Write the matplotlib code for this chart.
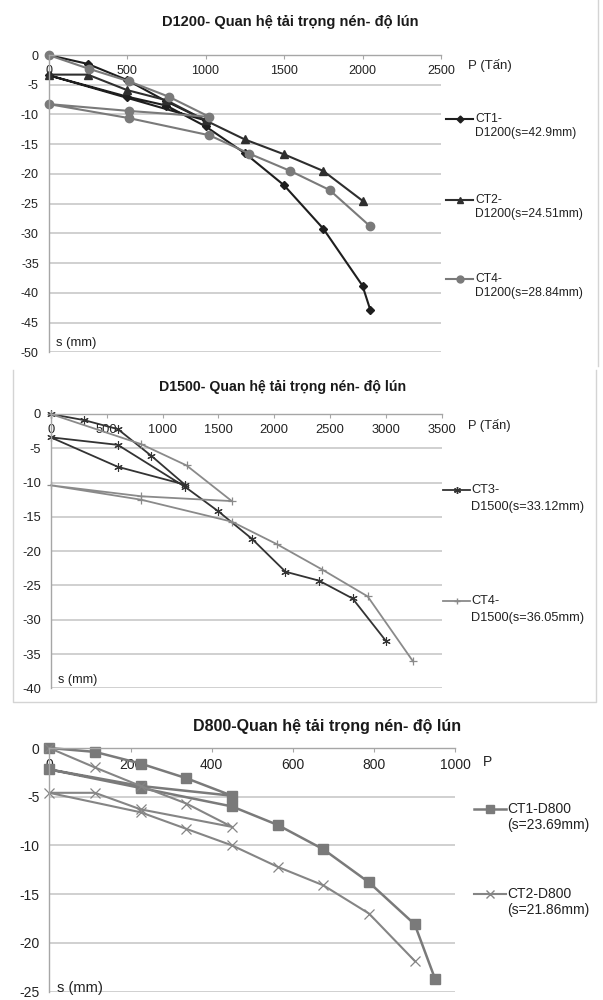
import matplotlib
matplotlib.use("Agg")
import matplotlib.pyplot as plt
from matplotlib.lines import Line2D

plt.rcParams['font.family'] = ['Liberation Sans', 'DejaVu Sans']
plt.rcParams['axes.unicode_minus'] = False

# ---------------- D1200 data ----------------
d1200_ct1_p = [0, 250, 500, 750, 1000, 0, 500, 750, 1000, 1250, 1500, 1750, 2000, 2050]
d1200_ct1_s = [0, -1.5, -4.2, -7.8, -11.0, -3.4, -7.0, -8.5, -12.0, -16.5, -21.9, -29.2, -38.8, -42.9]
d1200_ct2_p = [0, 250, 500, 750, 1000, 1250, 1500, 1750, 2000]
d1200_ct2_s = [-3.3, -3.3, -5.9, -7.6, -11.0, -14.2, -16.7, -19.5, -24.51]
d1200_ct4_p = [0, 255, 510, 765, 1025, 510, 0, 510, 1025, 1280, 1540, 1790, 2050]
d1200_ct4_s = [0, -2.3, -4.4, -7.0, -10.4, -9.4, -8.25, -10.6, -13.5, -16.6, -19.5, -22.7, -28.84]

# ---------------- D1500 data ----------------
d1500_ct3_p = [0, 300, 600, 900, 1200, 600, 0, 600, 1200, 1500, 1800, 2100, 2400, 2700, 3000]
d1500_ct3_s = [0, -0.9, -2.2, -6.1, -10.3, -7.7, -3.4, -4.5, -10.6, -14.2, -18.2, -23.0, -24.3, -26.9, -33.12]
d1500_ct4_p = [0, 810, 1215, 1620, 810, 0, 810, 1620, 2025, 2430, 2835, 3240]
d1500_ct4_s = [0, -4.4, -7.5, -12.7, -12.0, -10.4, -12.5, -15.7, -19.0, -22.7, -26.6, -36.05]

# ---------------- D800 data ----------------
d800_ct1_p = [0, 112.5, 225, 337.5, 450, 225, 0, 225, 450, 562.5, 675, 787.5, 900, 950]
d800_ct1_s = [0, -0.4, -1.6, -3.1, -4.9, -3.9, -2.2, -4.1, -6.0, -7.9, -10.4, -13.8, -18.1, -23.69]
d800_ct2_p = [0, 112.5, 225, 337.5, 450, 225, 112.5, 0, 225, 337.5, 450, 562.5, 675, 787.5, 900]
d800_ct2_s = [0, -2.0, -3.9, -5.7, -8.1, -6.3, -4.6, -4.6, -6.6, -8.3, -10.0, -12.2, -14.1, -17.0, -21.86]

titles = ["D1200- Quan hệ tải trọng nén- độ lún",
          "D1500- Quan hệ tải trọng nén- độ lún",
          "D800-Quan hệ tải trọng nén- độ lún"]

W, H = 603, 1000
fig = plt.figure(figsize=(W / 100, H / 100), dpi=100)

def fx(px):
    return px / W

def fy(py):
    return 1 - py / H

def make_axes(left, right, top, bottom, xmax, xstep, ymin, ystep, tick_fs, pad):
    ax = fig.add_axes([fx(left), fy(bottom), fx(right - left), (bottom - top) / H])
    ax.set_xlim(0, xmax)
    ax.set_ylim(ymin, 0)
    xt = list(range(0, int(xmax) + 1, xstep))
    yt = list(range(int(ymin), 1, ystep))
    ax.set_xticks(xt)
    ax.set_yticks(yt)
    ax.xaxis.set_ticks_position('top')
    ax.tick_params(axis='x', direction='in', length=3, width=0.8, color='#a6a6a6',
                   pad=pad, labelsize=tick_fs, labelcolor='#222222')
    ax.tick_params(axis='y', length=0, pad=7, labelsize=tick_fs, labelcolor='#222222')
    for sp in ['right', 'bottom']:
        ax.spines[sp].set_visible(False)
    for sp in ['top', 'left']:
        ax.spines[sp].set_color('#a6a6a6')
        ax.spines[sp].set_linewidth(1.0)
    ax.yaxis.grid(True, color='#c8c8c8', linewidth=1.2)
    ax.set_axisbelow(True)
    ax.patch.set_alpha(0)
    for sp in ax.spines.values():
        sp.set_clip_on(False)
    return ax

def legend_entry(x0, x1, y, color, marker, ms, lw, lines, fs, tx, dy):
    fig.add_artist(Line2D([fx(x0), fx(x1)], [fy(y), fy(y)], color=color, lw=lw,
                          transform=fig.transFigure))
    fig.add_artist(Line2D([fx((x0 + x1) / 2)], [fy(y)], color=color, marker=marker,
                          ms=ms, mec=color, mfc=color, lw=0, transform=fig.transFigure))
    for i, t in enumerate(lines):
        fig.text(fx(tx), fy(y + i * dy), t, fontsize=fs, va='center', ha='left',
                 color='#222222')

# ---------------- Panel 1: D1200 ----------------
ax1 = make_axes(48.5, 441, 55, 352.3, 2500, 500, -50, 5, 9, -16)
c_ct1, c_ct2, c_ct4 = '#1e1e1e', '#2e2e2e', '#7a7a7a'
ax1.plot(d1200_ct1_p, d1200_ct1_s, color=c_ct1, lw=1.5, marker='D', ms=4, clip_on=False)
ax1.plot(d1200_ct2_p, d1200_ct2_s, color=c_ct2, lw=1.5, marker='^', ms=5.5, clip_on=False)
ax1.plot(d1200_ct4_p, d1200_ct4_s, color=c_ct4, lw=1.5, marker='o', ms=6, clip_on=False)
fig.text(fx(290), fy(22), titles[0], fontsize=10.5, fontweight='bold', ha='center',
         va='center', color='#1a1a1a')
fig.text(fx(467.5), fy(65), "P (Tấn)", fontsize=9.5, ha='left', va='center', color='#222222')
fig.text(fx(56), fy(343), "s (mm)", fontsize=9.4, ha='left', va='center', color='#222222')
legend_entry(446, 473, 119, c_ct1, 'D', 3.5, 1.5, ["CT1-", "D1200(s=42.9mm)"], 8.7, 475, 14)
legend_entry(446, 473, 200, c_ct2, '^', 5, 1.5, ["CT2-", "D1200(s=24.51mm)"], 8.7, 475, 14)
legend_entry(446, 473, 279, c_ct4, 'o', 5, 1.5, ["CT4-", "D1200(s=28.84mm)"], 8.7, 475, 14)

# ---------------- Panel 2: D1500 ----------------
ax2 = make_axes(50.7, 442, 414, 688.3, 3500, 500, -40, 5, 9.3, -16)
c_ct3b, c_ct4b = '#333333', '#8a8a8a'
ax2.plot(d1500_ct3_p, d1500_ct3_s, color=c_ct3b, lw=1.3, marker=(6, 2, 0), ms=6,
         mew=0.8, clip_on=False)
ax2.plot(d1500_ct4_p, d1500_ct4_s, color=c_ct4b, lw=1.3, marker='+', ms=6, mew=0.9,
         clip_on=False)
fig.text(fx(283), fy(387), titles[1], fontsize=10.2, fontweight='bold', ha='center',
         va='center', color='#1a1a1a')
fig.text(fx(467.5), fy(425.5), "P (Tấn)", fontsize=9.3, ha='left', va='center', color='#222222')
fig.text(fx(58), fy(680.5), "s (mm)", fontsize=9.1, ha='left', va='center', color='#222222')
legend_entry(443, 470, 490.5, c_ct3b, (6, 2, 0), 5, 1.3, ["CT3-", "D1500(s=33.12mm)"], 9.2, 471, 16.5)
legend_entry(443, 470, 601, c_ct4b, '+', 5, 1.3, ["CT4-", "D1500(s=36.05mm)"], 9.2, 471, 16.5)

# ---------------- Panel 3: D800 ----------------
ax3 = make_axes(49.3, 455.3, 748, 991.5, 1000, 200, -25, 5, 10, -17)
c_d8a, c_d8b = '#7a7a7a', '#858585'
ax3.plot(d800_ct1_p, d800_ct1_s, color=c_d8a, lw=1.8, marker='s', ms=6.5, clip_on=False)
ax3.plot(d800_ct2_p, d800_ct2_s, color=c_d8b, lw=1.5, marker='x', ms=6.5, mew=0.9,
         clip_on=False)
fig.text(fx(327), fy(726), titles[2], fontsize=11.5, fontweight='bold', ha='center',
         va='center', color='#1a1a1a')
fig.text(fx(483), fy(761.5), "P", fontsize=10, ha='left', va='center', color='#222222')
fig.text(fx(57), fy(988), "s (mm)", fontsize=10.6, ha='left', va='center', color='#222222')
legend_entry(474, 506, 809, c_d8a, 's', 5.5, 1.8, ["CT1-D800", "(s=23.69mm)"], 10, 507, 16)
legend_entry(474, 506, 894, c_d8b, 'x', 5.5, 1.5, ["CT2-D800", "(s=21.86mm)"], 10, 507, 16)

# ---------------- panel frames ----------------
frame_c = '#d4d4d4'
fig.add_artist(Line2D([fx(597.5), fx(597.5)], [fy(0), fy(366)], color=frame_c, lw=1,
                      transform=fig.transFigure))
fig.add_artist(Line2D([fx(13), fx(13), fx(596), fx(596)], [fy(370), fy(702), fy(702), fy(370)],
                      color=frame_c, lw=1, transform=fig.transFigure))

fig.savefig("out.png", dpi=100)
